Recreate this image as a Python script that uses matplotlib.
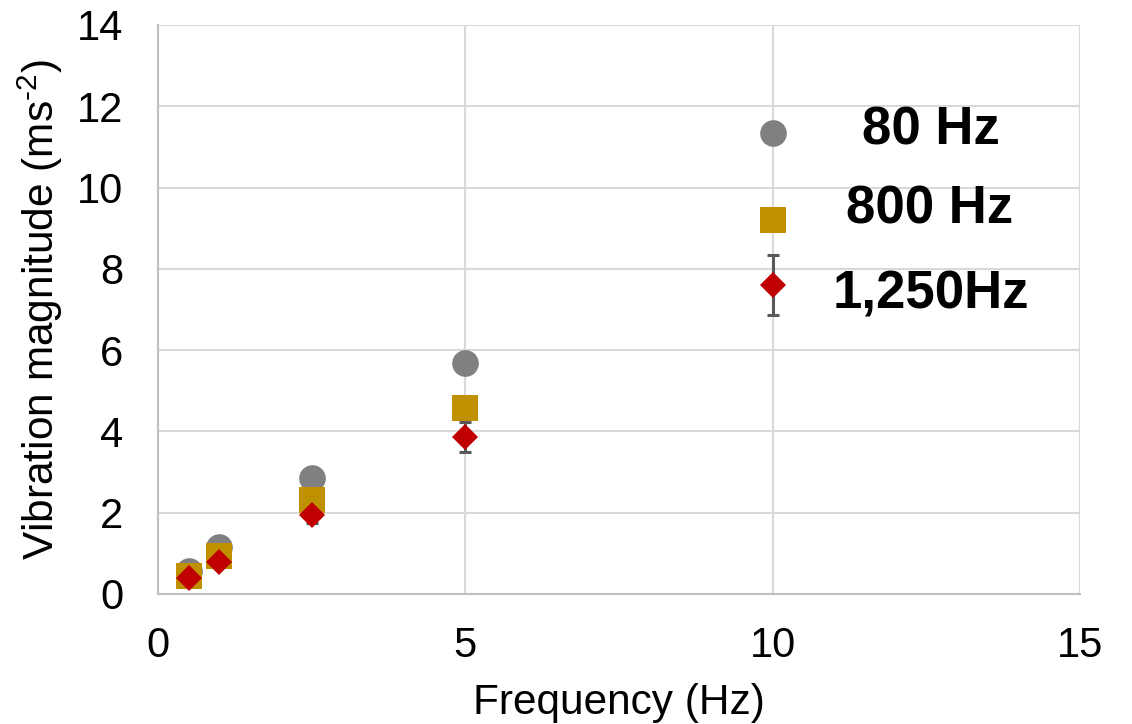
import matplotlib
matplotlib.use("Agg")
import matplotlib.pyplot as plt

# ---- data ----
freq = [0.5, 1, 2.5, 5, 10]
mag_80 = [0.57, 1.15, 2.85, 5.68, 11.34]
mag_800 = [0.45, 0.93, 2.31, 4.57, 9.20]
mag_1250 = [0.39, 0.78, 1.94, 3.86, 7.60]
err_1250 = [0.05, 0.08, 0.20, 0.36, 0.73]
labels = ["80 Hz", "800 Hz", "1,250Hz"]
xticks = [0, 5, 10, 15]
yticks = [0, 2, 4, 6, 8, 10, 12, 14]

plt.rcParams['font.family'] = ['Liberation Sans', 'DejaVu Sans']
plt.rcParams['mathtext.fontset'] = 'custom'
plt.rcParams['mathtext.rm'] = 'Liberation Sans'
plt.rcParams['mathtext.it'] = 'Liberation Sans'
plt.rcParams['mathtext.bf'] = 'Liberation Sans:bold'

fig = plt.figure(figsize=(11.32, 7.24), dpi=100)
ax = fig.add_axes([0.1396, 0.1796, 0.8145, 0.7859])

c80, c800, c1250 = '#808080', '#BF9000', '#C00000'

ax.plot(freq, mag_80, 'o', color=c80, markersize=19.2, markeredgewidth=0, zorder=3)
ax.errorbar(freq, mag_1250, yerr=err_1250, fmt='none', ecolor='#595959',
            elinewidth=2.2, capsize=4.5, capthick=2.2, zorder=3.5)
ax.plot(freq, mag_800, 's', color=c800, markersize=19.4, markeredgewidth=0, zorder=4)
ax.plot(freq, mag_1250, 'D', color=c1250, markersize=12.8, markeredgewidth=0, zorder=5)

# data labels next to the last points
offsets = [(114, 2), (113, 7.5), (114, -6.5)]
for lab, ys, off in zip(labels, [mag_80, mag_800, mag_1250], offsets):
    ax.annotate(lab, xy=(freq[-1], ys[-1]), xytext=off, textcoords='offset points',
                ha='center', va='center', fontsize=38, fontweight='bold', color='black',
                zorder=6)

ax.set_xlim(0, 15)
ax.set_ylim(0, 14)
ax.set_xticks(xticks)
ax.set_yticks(yticks)
ax.grid(True, color='#D9D9D9', linewidth=1.5, zorder=0)
ax.set_axisbelow(True)

for s in ['top', 'right']:
    ax.spines[s].set_visible(False)
for s in ['left', 'bottom']:
    ax.spines[s].set_color('#BFBFBF')
    ax.spines[s].set_linewidth(1.5)

ax.tick_params(axis='both', length=0, labelsize=30, colors='black')
ax.tick_params(axis='y', pad=25)
ax.tick_params(axis='x', pad=23)

ax.set_xlabel('Frequency (Hz)', fontsize=30.5)
ax.set_ylabel('Vibration magnitude (ms$^{\\text{-}\\mathregular{2}}$)', fontsize=30.5)
ax.xaxis.set_label_coords(0.5, -0.157)
ax.yaxis.set_label_coords(-0.101, 0.5)

fig.savefig('out.png', dpi=100)
